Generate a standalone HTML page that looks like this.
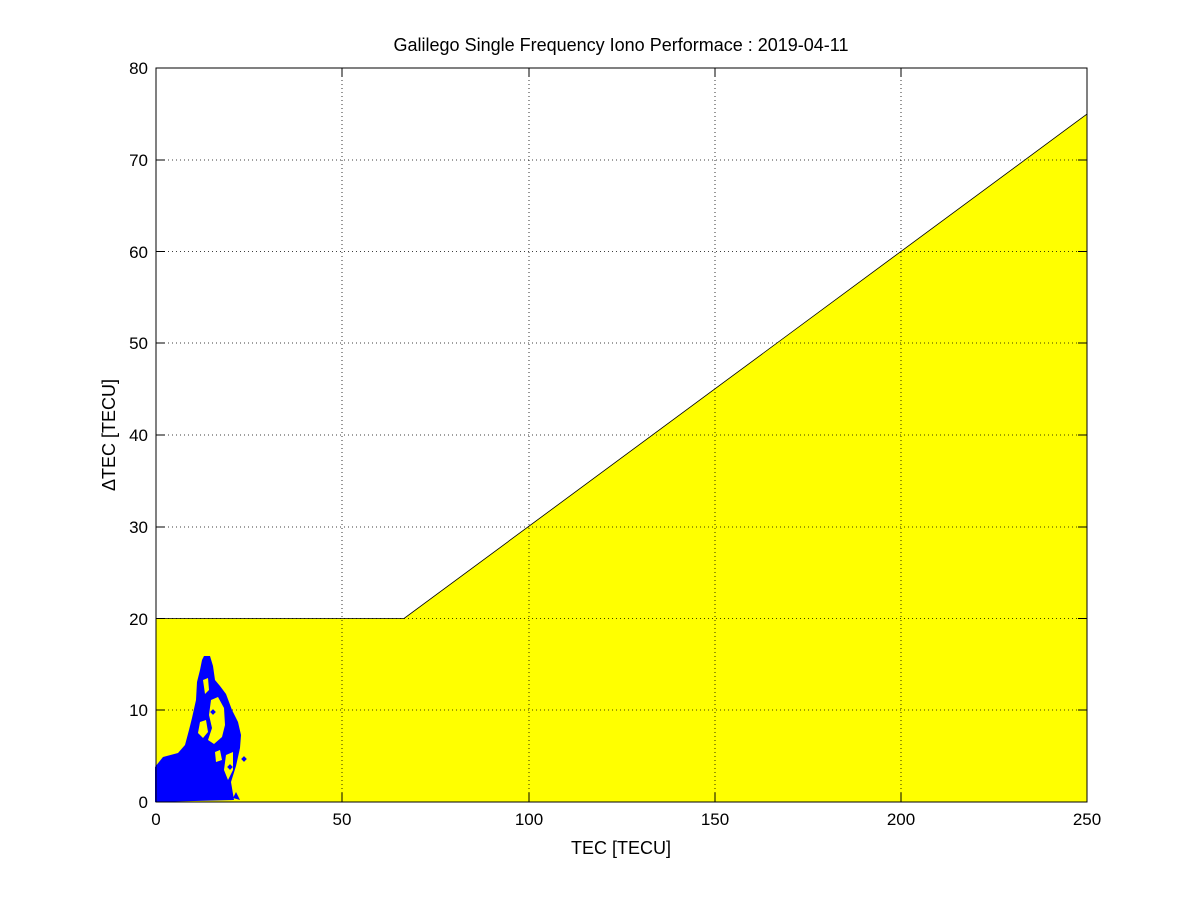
<!DOCTYPE html>
<html><head><style>
body{margin:0;background:#fff;}
svg text{font-family:"Liberation Sans",sans-serif;}
</style></head><body>
<svg width="1201" height="901" xmlns="http://www.w3.org/2000/svg">
<rect width="1201" height="901" fill="#fff"/>
<rect x="156" y="68" width="931" height="734" fill="#fff"/>
<polygon points="156,802 156,618.5 404,618.5 1087,114 1087,802" fill="#ffff00" stroke="#000" stroke-width="0.8"/>
<g stroke="#000" stroke-width="0.8" stroke-dasharray="1,3">
<line x1="342" y1="68" x2="342" y2="802"/><line x1="529" y1="68" x2="529" y2="802"/>
<line x1="715" y1="68" x2="715" y2="802"/><line x1="901" y1="68" x2="901" y2="802"/>
<line x1="156" y1="710" x2="1087" y2="710"/><line x1="156" y1="618.5" x2="1087" y2="618.5"/>
<line x1="156" y1="527" x2="1087" y2="527"/><line x1="156" y1="435" x2="1087" y2="435"/>
<line x1="156" y1="343" x2="1087" y2="343"/><line x1="156" y1="251.5" x2="1087" y2="251.5"/>
<line x1="156" y1="160" x2="1087" y2="160"/>
</g>
<g fill="#0000ff">
<polygon points="155,802 155,767 163,757 178,753 185,745 189,730 192,718 196,700 197,682 200,670 202,660 204,656 210,656 213,666 215,680 220,686 226,694 232,710 238,722 241,735 240,748 236,766 231,782 234,800"/>
<polygon points="233,798 240,800 236,792" />
<rect x="242" y="757" width="4" height="4" transform="rotate(45 244 759)"/>
</g>
<g fill="#ffff00">
<polygon points="211,700 218,697 224,708 225,725 222,737 214,744 208,740 212,728 209,715"/>
<polygon points="200,722 206,720 208,732 203,738 198,733"/>
<polygon points="203,680 208,678 209,690 205,694"/>
<polygon points="226,755 233,752 233,770 228,780 224,770"/>
<polygon points="215,752 220,750 222,760 216,762"/>
</g>
<g fill="#0000ff">
<rect x="211" y="710" width="4" height="4" transform="rotate(45 213 712)"/>
<rect x="205" y="700" width="4" height="4" transform="rotate(45 207 702)"/>
<rect x="228" y="765" width="4" height="4" transform="rotate(45 230 767)"/>
</g>
<rect x="156" y="68" width="931" height="734" fill="none" stroke="#000" stroke-width="1"/>
<g stroke="#000" stroke-width="1">
<line x1="342" y1="802" x2="342" y2="793"/><line x1="529" y1="802" x2="529" y2="793"/><line x1="715" y1="802" x2="715" y2="793"/><line x1="901" y1="802" x2="901" y2="793"/>
<line x1="342" y1="68" x2="342" y2="77"/><line x1="529" y1="68" x2="529" y2="77"/><line x1="715" y1="68" x2="715" y2="77"/><line x1="901" y1="68" x2="901" y2="77"/>
<line x1="156" y1="710" x2="165" y2="710"/><line x1="156" y1="618.5" x2="165" y2="618.5"/><line x1="156" y1="527" x2="165" y2="527"/><line x1="156" y1="435" x2="165" y2="435"/><line x1="156" y1="343" x2="165" y2="343"/><line x1="156" y1="251.5" x2="165" y2="251.5"/><line x1="156" y1="160" x2="165" y2="160"/>
<line x1="1087" y1="710" x2="1078" y2="710"/><line x1="1087" y1="618.5" x2="1078" y2="618.5"/><line x1="1087" y1="527" x2="1078" y2="527"/><line x1="1087" y1="435" x2="1078" y2="435"/><line x1="1087" y1="343" x2="1078" y2="343"/><line x1="1087" y1="251.5" x2="1078" y2="251.5"/><line x1="1087" y1="160" x2="1078" y2="160"/>
</g>
<g font-size="17" text-anchor="middle">
<text x="156" y="825">0</text><text x="342" y="825">50</text><text x="529" y="825">100</text><text x="715" y="825">150</text><text x="901" y="825">200</text><text x="1087" y="825">250</text>
</g>
<g font-size="17" text-anchor="end">
<text x="148" y="808">0</text><text x="148" y="716">10</text><text x="148" y="625">20</text><text x="148" y="533">30</text><text x="148" y="441">40</text><text x="148" y="349">50</text><text x="148" y="258">60</text><text x="148" y="166">70</text><text x="148" y="74">80</text>
</g>
<text x="621" y="854" font-size="18" text-anchor="middle">TEC [TECU]</text>
<text x="0" y="0" font-size="18" text-anchor="middle" transform="translate(115,435) rotate(-90)">ΔTEC [TECU]</text>
<text x="621" y="51" font-size="18" text-anchor="middle">Galilego Single Frequency Iono Performace : 2019-04-11</text>
</svg>
</body></html>
